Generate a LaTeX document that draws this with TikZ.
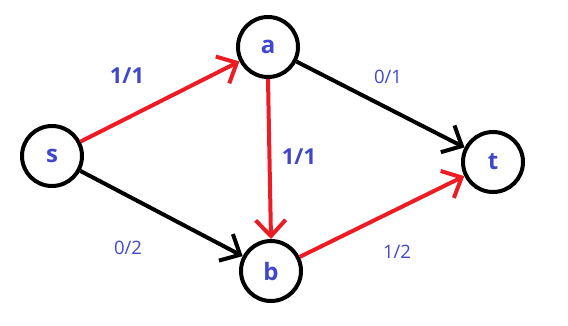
\documentclass[tikz,border=0pt]{standalone}
\usepackage{fontspec}
\setmainfont{Open Sans}[BoldFont={Open Sans Bold}]
\usetikzlibrary{arrows.meta}
\definecolor{pblue}{HTML}{3F48CC}
\definecolor{pred}{HTML}{ED1C24}
\begin{document}
\begin{tikzpicture}[x=1pt,y=-1pt,
  vtx/.style={circle,draw=black,line width=4pt,minimum size=60pt,inner sep=0pt,
    text=pblue,font=\fontsize{24}{24}\selectfont\bfseries},
  edg/.style={line width=4pt,-{Straight Barb[length=16pt,width=30pt,line cap=butt]}},
  redg/.style={edg,draw=pred},
  bedg/.style={edg,draw=black},
  big/.style={text=pblue,font=\fontsize{22}{22}\selectfont\bfseries},
  small/.style={text=pblue,font=\fontsize{18.5}{18.5}\selectfont}]
\useasboundingbox (0,0) rectangle (568,325);
\node[vtx] (s) at (52,156) {s};
\node[vtx] (a) at (268,47) {a};
\node[vtx] (b) at (271,271) {b};
\node[vtx] (t) at (493,162) {t};
\draw[redg] (s) -- (a);
\draw[bedg] (s) -- (b);
\draw[redg] (a.south) -- (b.north);
\draw[bedg] (a) -- (t);
\draw[redg] (b) -- (t);
\node[big] (l1) at (127,76) {1/1};
\node[small] (l2) at (128,248) {0/2};
\node[big] (l3) at (299,157) {1/1};
\node[small] (l4) at (388,77) {0/1};
\node[small] (l5) at (397,252) {1/2};
\end{tikzpicture}
\end{document}
